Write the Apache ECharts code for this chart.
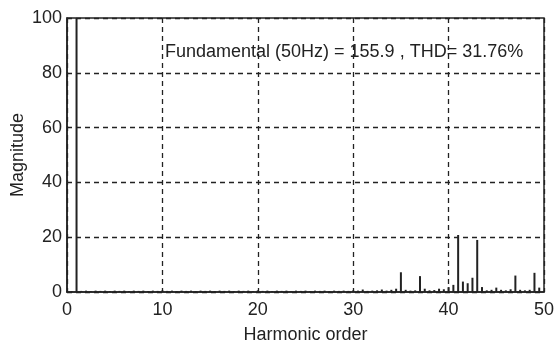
<!DOCTYPE html>
<html><head><meta charset="utf-8">
<script src="https://cdn.jsdelivr.net/npm/echarts@6/dist/echarts.min.js"></script>
<style>html,body{margin:0;padding:0;background:#fff}#c{width:555px;height:350px}</style>
</head><body><div id="c"></div>
<script>
const harmonicOrders = [0,0.5,1,1.5,2,2.5,3,3.5,4,4.5,5,5.5,6,6.5,7,7.5,8,8.5,9,9.5,10,10.5,11,11.5,12,12.5,13,13.5,14,14.5,15,15.5,16,16.5,17,17.5,18,18.5,19,19.5,20,20.5,21,21.5,22,22.5,23,23.5,24,24.5,25,25.5,26,26.5,27,27.5,28,28.5,29,29.5,30,30.5,31,31.5,32,32.5,33,33.5,34,34.5,35,35.5,36,36.5,37,37.5,38,38.5,39,39.5,40,40.5,41,41.5,42,42.5,43,43.5,44,44.5,45,45.5,46,46.5,47,47.5,48,48.5,49,49.5,50];
const magnitudes = [0.3,0.3,100,0.4,0.5,0.3,0.5,0.4,0.5,0.3,0.5,0.4,0.5,0.3,0.5,0.4,0.5,0.3,0.5,0.4,0.6,0.4,0.5,0.3,0.5,0.4,0.5,0.3,0.5,0.4,0.5,0.3,0.5,0.4,0.5,0.3,0.5,0.4,0.5,0.3,0.6,0.4,0.5,0.3,0.5,0.4,0.5,0.3,0.5,0.4,0.5,0.3,0.5,0.4,0.5,0.3,0.5,0.4,0.5,0.4,0.6,0.5,0.9,0.4,0.5,0.6,0.9,0.5,0.8,1.2,7.2,0.8,0.5,0.6,5.8,1.2,0.6,0.7,1.2,1.0,1.8,2.6,20.8,3.8,3.2,5.2,19,1.8,0.6,0.8,1.6,0.8,0.6,1.0,6,0.8,0.6,0.8,7,1.6,0.5];
const xTicks = [0,10,20,30,40,50];
const yTicks = [0,20,40,60,80,100];
const annotation = 'Fundamental (50Hz) = 155.9 , THD= 31.76%';

const chart = echarts.init(document.getElementById('c'), null, {renderer:'canvas'});
const font = 'Liberation Sans';
chart.setOption({
  animation:false,
  backgroundColor:'#fff',
  title:{text:annotation,left:160,top:38,textStyle:{fontFamily:font,fontSize:18,fontWeight:'normal',color:'#222'}},
  grid:{left:67,right:11,top:18,bottom:58,containLabel:false,outerBoundsMode:'none',show:true,borderColor:'#222',borderWidth:1.5,backgroundColor:'transparent'},
  xAxis:{type:'value',min:xTicks[0],max:xTicks[xTicks.length-1],interval:10,
    name:'Harmonic order',nameLocation:'middle',nameGap:34,nameMoveOverlap:false,
    nameTextStyle:{fontFamily:font,fontSize:18,color:'#222'},
    axisLine:{show:true,lineStyle:{color:'#222',width:1.5}},
    axisTick:{show:true,inside:true,length:4,lineStyle:{color:'#222'}},
    axisLabel:{fontFamily:font,fontSize:18,color:'#222',margin:9},
    splitLine:{show:true,lineStyle:{type:[5,4],color:'#222',width:1.3}}},
  yAxis:{type:'value',min:yTicks[0],max:yTicks[yTicks.length-1],interval:20,
    name:'Magnitude',nameLocation:'middle',nameGap:40,nameMoveOverlap:false,
    nameTextStyle:{fontFamily:font,fontSize:18,color:'#222'},
    axisLine:{show:true,lineStyle:{color:'#222',width:1.5}},
    axisTick:{show:true,inside:true,length:4,lineStyle:{color:'#222'}},
    axisLabel:{fontFamily:font,fontSize:18,color:'#222',margin:5},
    splitLine:{show:true,lineStyle:{type:[5,4],color:'#222',width:1.3}}},
  series:[{type:'bar',barWidth:2,itemStyle:{color:'#222'},
    data:harmonicOrders.map((h,i)=>[h,magnitudes[i]])}]
});
</script></body></html>
